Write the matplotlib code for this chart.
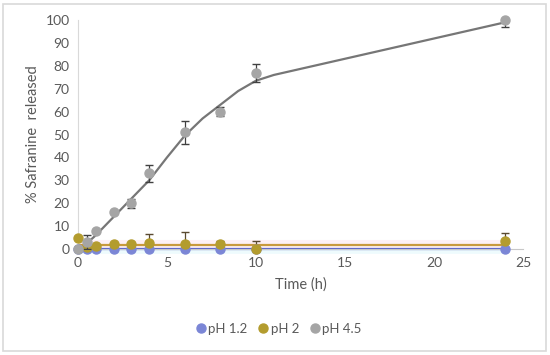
import matplotlib
matplotlib.use("Agg")
import matplotlib.pyplot as plt
from matplotlib.patches import Rectangle
from matplotlib.lines import Line2D

plt.rcParams['font.family'] = ['Lato', 'DejaVu Sans']

# sampling times (h)
time = [0, 0.5, 1, 2, 3, 4, 6, 8, 10, 24]

# % released, measured
ph12 = [0, 0, 0, 0, 0, 0, 0, 0, 0, 0]
ph12_err = [0, 0, 0, 0, 0, 0, 0, 0, 0, 0]
ph2 = [5, 1, 1.3, 2, 2, 2.5, 2.3, 2, 0, 3.6]
ph2_err = [0, 0, 0, 0, 0, 4, 5, 1.5, 3.5, 3.4]
ph45 = [0, 3, 8, 16, 20, 33, 51, 60, 77, 100]
ph45_err = [0, 3, 0, 0, 2, 3.7, 5, 2, 4, 3]

# fitted curves
fit_t12 = [0, 24]
fit12 = [0.2, 0.2]
fit_t2 = [0, 24]
fit2 = [1.8, 1.8]
fit_t45 = [0.5, 1, 2, 3, 4, 5, 6, 7, 8, 9, 10, 11, 24]
fit45 = [2.5, 6, 14, 22, 30, 40, 49.5, 57, 63, 69, 73.5, 76, 99]

c12 = '#7B86D6'
c2 = '#B39C2E'
c45 = '#A5A5A5'

fig = plt.figure(figsize=(5.5, 3.55), dpi=100)
fig.patches.append(Rectangle((3 / 550, 1 - 351 / 355), 543 / 550, 347 / 355,
                             transform=fig.transFigure, fill=False,
                             edgecolor='#D9D9D9', linewidth=1.2))
ax = fig.add_axes([78 / 550, 1 - 249 / 355, 445 / 550, 229 / 355])

# faint glow behind flat lines
ax.plot(fit_t12, fit12, color='#EEFBFD', lw=7, solid_capstyle='butt', zorder=1, clip_on=False)
ax.plot(fit_t2, fit2, color='#FDF0F4', lw=8, solid_capstyle='butt', zorder=1)

ax.plot(fit_t12, fit12, color='#5A64C8', lw=1.6, zorder=2, clip_on=False)
ax.plot(fit_t2, fit2, color='#C89A3C', lw=1.6, zorder=2)
ax.plot(fit_t45, fit45, color='#767676', lw=1.6, zorder=4)

for y, e, c, ec, z in [(ph12, ph12_err, c12, '#404040', 3),
                       (ph2, ph2_err, c2, '#5A4A30', 3),
                       (ph45, ph45_err, c45, '#404040', 5)]:
    ax.errorbar(time, y, yerr=e, fmt='none', ecolor=ec,
                elinewidth=0.9, capsize=3, zorder=z)
    ax.plot(time, y, 'o', color=c, ms=6.5, zorder=z + 0.5, clip_on=False)

ax.set_xlim(0, 25)
ax.set_ylim(0, 100)
ax.set_xticks([0, 5, 10, 15, 20, 25])
ax.set_yticks(range(0, 101, 10))
ax.spines['top'].set_visible(False)
ax.spines['right'].set_visible(False)
ax.spines['left'].set_color('#D9D9D9')
ax.spines['bottom'].set_color('#C8C8C8')
ax.tick_params(length=0, labelsize=10, colors='#595959', pad=6)
ax.set_xlabel('Time (h)', fontsize=10.5, color='#595959', labelpad=6)
ax.set_ylabel('% Safranine  released', fontsize=10.5, color='#595959', labelpad=4)

labels = ['pH 1.2', 'pH 2', 'pH 4.5']
handles = [Line2D([], [], ls='none', marker='o', ms=6.5, color=c) for c in (c12, c2, c45)]
fig.legend(handles, labels, loc='center', bbox_to_anchor=(278 / 550, 1 - 329 / 355), ncol=3,
           frameon=False, fontsize=9.5, handletextpad=0.05, columnspacing=0.7,
           handlelength=1.0, labelcolor='#595959')

fig.savefig('out.png', dpi=100)
